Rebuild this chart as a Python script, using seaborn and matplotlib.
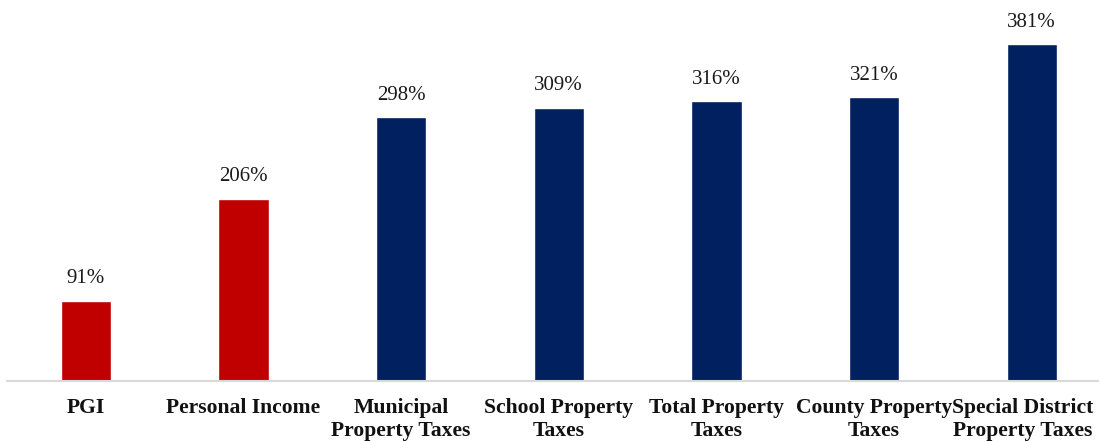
import matplotlib
matplotlib.use("Agg")
import matplotlib.pyplot as plt
import seaborn as sns
import pandas as pd

categories = ["PGI", "Personal Income", "Municipal\nProperty Taxes", "School Property\nTaxes",
              "Total Property\nTaxes", "County Property\nTaxes", "Special District\nProperty Taxes"]
values = [91, 206, 298, 309, 316, 321, 381]
colors = ["#C00000", "#C00000", "#002060", "#002060", "#002060", "#002060", "#002060"]

sns.set_theme(style="white")
plt.rcParams['font.family'] = ['Liberation Serif', 'DejaVu Serif']

df = pd.DataFrame({"cat": categories, "val": values})

fig = plt.figure(figsize=(10.99, 4.41), dpi=100)
ax = fig.add_axes([7/1099, 60/441, 1091/1099, 430*0.8845/441])
sns.barplot(data=df, x="cat", y="val", hue="cat", palette=colors, width=0.318,
            legend=False, ax=ax, saturation=1)

for i, v in enumerate(values):
    ax.annotate(f"{v}%", (i, v), xytext=(0, 9), textcoords="offset points",
                ha="center", va="bottom", fontsize=15, color="#1a1a1a")

ax.set_xlim(-0.5, 6.42)
ax.set_ylim(0, 430)
ax.set_xlabel("")
ax.set_ylabel("")
ax.set_yticks([])
ax.set_xticks(range(len(categories)))
ax.set_xticklabels(categories[:-1] + [""])
ax.tick_params(axis="x", length=0, pad=12.5)
for lbl in ax.get_xticklabels():
    lbl.set_fontweight("bold")
    lbl.set_fontsize(15.6)
    lbl.set_linespacing(1.17)
    lbl.set_color("#111111")
# last label shifted left to stay inside the figure
ax.annotate(categories[-1], (len(categories) - 1, 0), xycoords=("data", "axes fraction"),
            xytext=(-6.5, -12.5), textcoords="offset points", ha="center", va="top",
            fontsize=15.6, fontweight="bold", linespacing=1.17, color="#111111")
for s in ["top", "right", "left"]:
    ax.spines[s].set_visible(False)
ax.spines["bottom"].set_color("#d9d9d9")
ax.spines["bottom"].set_linewidth(1.5)

fig.savefig("out.png", dpi=100)
